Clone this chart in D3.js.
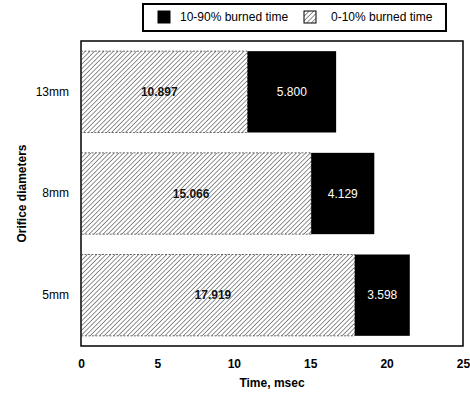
<!DOCTYPE html>
<html>
<head>
<meta charset="utf-8">
<script src="https://cdn.jsdelivr.net/npm/d3@7"></script>
<style>
  body { margin: 0; background: #fff; }
  text { font-family: "Liberation Sans", Arial, sans-serif; }
</style>
</head>
<body>
<svg id="chart"></svg>
<script>
// data
const categories = ['13mm', '8mm', '5mm'];
const early = [10.897, 15.066, 17.919];   // 0-10% burned time
const main = [5.800, 4.129, 3.598];       // 10-90% burned time
const xTicks = [0, 5, 10, 15, 20, 25];
const legendLabels = ['10-90% burned time', '0-10% burned time'];

const svgWidth = 470, svgHeight = 396;
const margin = { top: 41, right: 7, bottom: 50, left: 81 };
const width = svgWidth - margin.left - margin.right;
const height = svgHeight - margin.top - margin.bottom;

const svg = d3.select('#chart')
    .attr('width', svgWidth)
    .attr('height', svgHeight);

// hatch pattern
const defs = svg.append('defs');
defs.append('pattern')
    .attr('id', 'hatch')
    .attr('patternUnits', 'userSpaceOnUse')
    .attr('width', 3.3)
    .attr('height', 3.3)
    .attr('patternTransform', 'rotate(45)')
    .append('line')
    .attr('x1', 0).attr('y1', 0)
    .attr('x2', 0).attr('y2', 3.3)
    .attr('stroke', '#222')
    .attr('stroke-width', 1);

const g = svg.append('g')
    .attr('transform', `translate(${margin.left},${margin.top})`);

const x = d3.scaleLinear().domain([0, 25]).range([0, width]);
const y = d3.scaleBand()
    .domain(categories)
    .range([0, height])
    .paddingInner(0.2)
    .paddingOuter(0.1);

// frame
g.append('rect')
    .attr('width', width)
    .attr('height', height)
    .attr('fill', 'none')
    .attr('stroke', '#000')
    .attr('stroke-width', 1.5);

// hatched part
g.selectAll('.early')
    .data(categories)
    .enter().append('rect')
    .attr('class', 'early')
    .attr('x', x(0))
    .attr('y', d => y(d))
    .attr('width', (d, i) => x(early[i]) - x(0))
    .attr('height', y.bandwidth())
    .attr('fill', 'url(#hatch)')
    .attr('stroke', '#444')
    .attr('stroke-width', 0.8)
    .attr('stroke-dasharray', '2,1.5');

// black part
g.selectAll('.main')
    .data(categories)
    .enter().append('rect')
    .attr('class', 'main')
    .attr('x', (d, i) => x(early[i]))
    .attr('y', d => y(d))
    .attr('width', (d, i) => x(early[i] + main[i]) - x(early[i]))
    .attr('height', y.bandwidth())
    .attr('fill', '#000');

// value labels
g.selectAll('.lblEarly')
    .data(categories)
    .enter().append('text')
    .attr('x', (d, i) => x(early[i] / 2) - 5)
    .attr('y', d => y(d) + y.bandwidth() / 2)
    .attr('dy', '0.35em')
    .attr('text-anchor', 'middle')
    .attr('font-size', 12)
    .attr('font-weight', 'bold')
    .attr('fill', '#111')
    .attr('stroke', '#fff')
    .attr('stroke-width', 0.4)
    .attr('paint-order', 'stroke')
    .text((d, i) => early[i].toFixed(3));

g.selectAll('.lblMain')
    .data(categories)
    .enter().append('text')
    .attr('x', (d, i) => x(early[i] + main[i] / 2))
    .attr('y', d => y(d) + y.bandwidth() / 2)
    .attr('dy', '0.35em')
    .attr('text-anchor', 'middle')
    .attr('font-size', 12)
    .attr('fill', '#fff')
    .text((d, i) => main[i].toFixed(3));

// x axis labels
const xAxis = g.append('g')
    .attr('transform', `translate(0,${height})`)
    .call(d3.axisBottom(x).tickValues(xTicks).tickSize(0).tickPadding(13));
xAxis.select('.domain').remove();
xAxis.selectAll('text')
    .attr('font-size', 12)
    .attr('font-weight', 'bold')
    .attr('fill', '#000');

// y axis labels
const yAxis = g.append('g')
    .call(d3.axisLeft(y).tickSize(0).tickPadding(12));
yAxis.select('.domain').remove();
yAxis.selectAll('text')
    .attr('font-size', 12)
    .attr('fill', '#000');

// axis titles
svg.append('text')
    .attr('x', margin.left + width / 2)
    .attr('y', 387)
    .attr('text-anchor', 'middle')
    .attr('font-size', 12)
    .attr('font-weight', 'bold')
    .text('Time, msec');

svg.append('text')
    .attr('transform', `translate(26,${margin.top + height / 2}) rotate(-90)`)
    .attr('text-anchor', 'middle')
    .attr('font-size', 12)
    .attr('font-weight', 'bold')
    .text('Orifice diameters');

// legend
const legend = svg.append('g').attr('transform', 'translate(143,4)');
legend.append('rect')
    .attr('width', 303)
    .attr('height', 27)
    .attr('fill', '#fff')
    .attr('stroke', '#000')
    .attr('stroke-width', 2);

const legendItems = legend.selectAll('.item')
    .data(legendLabels)
    .enter().append('g')
    .attr('transform', (d, i) => `translate(${[15, 161][i]},7)`);

legendItems.append('rect')
    .attr('width', 12)
    .attr('height', 12)
    .attr('fill', (d, i) => i === 0 ? '#000' : 'url(#hatch)')
    .attr('stroke', '#000')
    .attr('stroke-width', 1);

legendItems.append('text')
    .attr('x', (d, i) => [22, 27][i])
    .attr('y', 6)
    .attr('dy', '0.35em')
    .attr('font-size', 12)
    .text(d => d);
</script>
</body>
</html>
